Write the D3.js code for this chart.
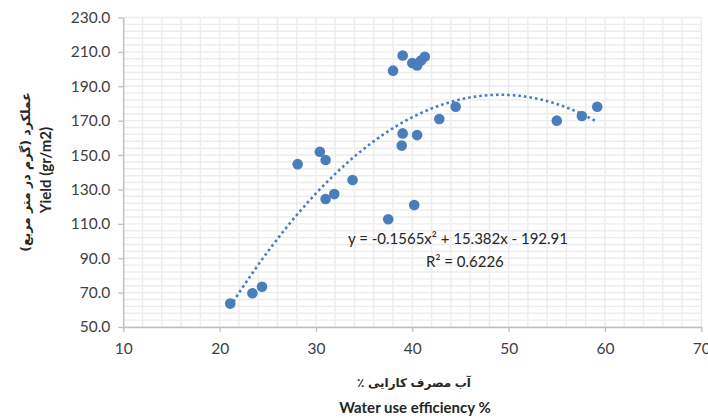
<!DOCTYPE html>
<html>
<head>
<meta charset="utf-8">
<script src="https://cdn.jsdelivr.net/npm/d3@7"></script>
<style>
  body { margin: 0; background: #fff; }
  text { font-family: Lato, "Open Sans", sans-serif; }
</style>
</head>
<body>
<div id="chart"></div>
<script>
// water use efficiency (%) and yield (gr/m2)
var wue = [21.1, 23.4, 24.4, 28.1, 30.4, 31.0, 31.0, 31.9, 33.8, 37.5,
           38.0, 38.9, 39.0, 39.0, 40.0, 40.2, 40.5, 40.5, 40.9, 41.3,
           42.8, 44.5, 55.0, 57.6, 59.2];
var yieldVals = [63.6, 69.6, 73.4, 144.7, 151.9, 147.1, 124.4, 127.3, 135.5, 112.7,
                 199.1, 155.5, 162.6, 207.9, 203.5, 120.9, 161.6, 202.1, 205.0, 207.2,
                 171.0, 178.1, 170.0, 172.7, 178.1];

var xTicks = [10, 20, 30, 40, 50, 60, 70];
var yTicks = [50, 70, 90, 110, 130, 150, 170, 190, 210, 230];

// polynomial trendline as printed on the chart: a x^2 + b x + c
var trendCoef = [-0.1565, 15.382, -192.91];
var trendLabel = ["y = -0.1565x\u00B2 + 15.382x - 192.91", "R\u00B2 = 0.6226"];

// persian x title, words in the order they sit on the picture (left to right)
var xTitleFa = ["\u066A", "\u06A9\u0627\u0631\u0627\u06CC\u06CC", "\u0645\u0635\u0631\u0641", "\u0622\u0628"];
var yTitleFa = "\u0639\u0645\u0644\u06A9\u0631\u062F (\u06AF\u0631\u0645 \u062F\u0631 \u0645\u062A\u0631 \u0645\u0631\u0628\u0639)";

var width = 708, height = 418;
var margin = {top: 17.5, right: 6.7, bottom: 91, left: 123.3};
var w = width - margin.left - margin.right,
    h = height - margin.top - margin.bottom;

var svg = d3.select("#chart")
  .append("svg")
    .attr("width", width)
    .attr("height", height)
  .append("g")
    .attr("transform", "translate(" + margin.left + "," + margin.top + ")");

var x = d3.scaleLinear().domain([10, 70]).range([0, w]);
var y = d3.scaleLinear().domain([50, 230]).range([h, 0]);

// minor + major gridlines
svg.append("g")
  .selectAll("line")
  .data(d3.range(10, 70.01, 2))
  .join("line")
    .attr("x1", d => x(d)).attr("x2", d => x(d))
    .attr("y1", 0).attr("y2", h)
    .attr("stroke", "#ececec")
    .attr("stroke-width", 1.4);

svg.append("g")
  .selectAll("line")
  .data(d3.range(50, 230.01, 4))
  .join("line")
    .attr("x1", 0).attr("x2", w)
    .attr("y1", d => y(d)).attr("y2", d => y(d))
    .attr("stroke", "#ececec")
    .attr("stroke-width", 1.4);

// axes
var xAxis = svg.append("g")
  .attr("transform", "translate(0," + h + ")")
  .call(d3.axisBottom(x).tickValues(xTicks).tickSize(5).tickPadding(8).tickSizeOuter(0));

var yAxis = svg.append("g")
  .call(d3.axisLeft(y).tickValues(yTicks).tickSize(5).tickPadding(8).tickSizeOuter(0)
    .tickFormat(d3.format(".1f")));

[xAxis, yAxis].forEach(function (a) {
  a.select(".domain").attr("stroke", "#bfbfbf").attr("stroke-width", 1.3);
  a.selectAll(".tick line").attr("stroke", "#bfbfbf").attr("stroke-width", 1.3);
  a.selectAll(".tick text")
    .attr("fill", "#404040")
    .style("font-size", "15.5px");
});
xAxis.selectAll(".tick text").attr("dy", "0.9em");

// trendline, drawn from the printed equation over the data range
var xMin = d3.min(wue), xMax = d3.max(wue);
var trend = d3.range(xMin, xMax + 0.001, (xMax - xMin) / 80).map(function (v) {
  return [v, trendCoef[0] * v * v + trendCoef[1] * v + trendCoef[2]];
});

svg.append("path")
  .datum(trend)
  .attr("fill", "none")
  .attr("stroke", "#4a7ebb")
  .attr("stroke-width", 2.6)
  .attr("stroke-dasharray", "2.6,3")
  .attr("d", d3.line()
    .x(function (d) { return x(d[0]) })
    .y(function (d) { return y(d[1]) })
    .curve(d3.curveMonotoneX));

// points
svg.append("g")
  .selectAll("circle")
  .data(wue)
  .join("circle")
    .attr("cx", d => x(d))
    .attr("cy", (d, i) => y(yieldVals[i]))
    .attr("r", 5.3)
    .attr("fill", "#4a7ebb");

// equation label
svg.append("text")
  .attr("x", 348 - margin.left)
  .attr("y", 239 - margin.top)
  .attr("dy", "0.35em")
  .attr("fill", "#262626")
  .style("font-size", "15px")
  .text(trendLabel[0]);

svg.append("text")
  .attr("x", 426 - margin.left)
  .attr("y", 262 - margin.top)
  .attr("dy", "0.35em")
  .attr("fill", "#262626")
  .style("font-size", "15px")
  .text(trendLabel[1]);

// axis titles
var root = d3.select("svg");

// each persian word is its own text so the bidi pass can't reorder them
var faWords = root.append("g")
  .selectAll("text")
  .data(xTitleFa)
  .join("text")
    .attr("y", 383)
    .attr("dy", "0.35em")
    .attr("fill", "#262626")
    .style("font-family", "'DejaVu Sans', sans-serif")
    .style("font-weight", "bold")
    .style("font-size", "12px")
    .text(d => d);

var gap = 3.5;
var lens = faWords.nodes().map(n => n.getComputedTextLength());
var total = d3.sum(lens) + gap * (lens.length - 1);
var cur = 414 - total / 2;
faWords.attr("x", function (d, i) {
  var xs = cur;
  cur += lens[i] + gap;
  return xs;
});

root.append("text")
  .attr("x", 415).attr("y", 408)
  .attr("dy", "0.35em")
  .attr("text-anchor", "middle")
  .attr("fill", "#262626")
  .style("font-weight", "bold")
  .style("font-size", "15px")
  .text("Water use efficiency %");

root.append("text")
  .attr("transform", "translate(26,172) rotate(-90)")
  .attr("dy", "0.35em")
  .attr("text-anchor", "middle")
  .attr("fill", "#262626")
  .style("font-family", "'DejaVu Sans', sans-serif")
  .style("font-weight", "bold")
  .style("font-size", "12.5px")
  .text(yTitleFa);

root.append("text")
  .attr("transform", "translate(46,170) rotate(-90)")
  .attr("dy", "0.35em")
  .attr("text-anchor", "middle")
  .attr("fill", "#262626")
  .style("font-weight", "bold")
  .style("font-size", "15px")
  .text("Yield (gr/m2)");
</script>
</body>
</html>
